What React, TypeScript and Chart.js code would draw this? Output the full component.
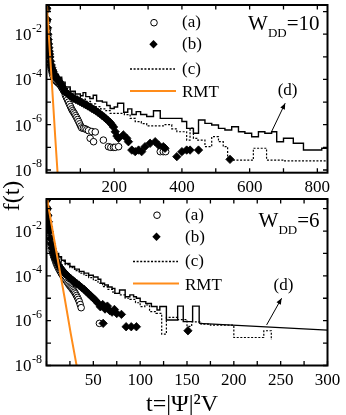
import React, { useEffect, useRef } from 'react';
import { Chart, registerables } from 'chart.js';

Chart.register(...registerables);

const FONT = "'Liberation Serif', 'Times New Roman', Times, serif";
const ORANGE = '#ff8c1a';

type Pt = [number, number]; // [t, log10 f(t)]

// ---------- upper panel : W_DD = 10 ----------
const topCircles: Pt[] = [
  [1, -0.9], [2, -1.42], [3, -1.8], [4, -2.1], [5, -2.35], [6, -2.56], [7, -2.75], [8, -2.9], [9, -3.04], [10, -3.16],
  [12, -3.37], [14, -3.53], [16, -3.66], [18, -3.77], [20, -3.86], [23, -3.96], [26, -4.03], [29, -4.08], [32, -4.12],
  [35, -4.16], [38, -4.2], [41, -4.25], [44, -4.33], [47, -4.4], [50, -4.48], [53, -4.56], [56, -4.7], [59, -4.8],
  [62, -4.9], [65, -5.0], [68, -5.1], [71, -5.2], [74, -5.3], [77, -5.38], [80, -5.45], [83, -5.52], [86, -5.6],
  [89, -5.68], [92, -5.77], [95, -5.86], [98, -5.96], [101, -6.06], [104, -6.14], [109, -6.16], [114, -6.18],
  [119, -6.22], [124, -6.26], [129, -6.6], [134, -6.3], [139, -6.75], [144, -6.32], [168, -6.68], [183, -6.97],
  [190, -7.0], [198, -7.0], [203, -7.0], [213, -6.97], [336, -7.19], [345, -7.19], [352, -7.19],
];
const topDiamonds: Pt[] = [
  [1, -0.85], [2, -1.35], [3, -1.72], [4, -2.0], [5, -2.23], [6, -2.43], [7, -2.6], [8, -2.75], [9, -2.88], [10, -3.0],
  [12, -3.2], [14, -3.36], [16, -3.48], [18, -3.58], [20, -3.66], [23, -3.77], [26, -3.85], [29, -3.92], [32, -3.98],
  [35, -4.04], [38, -4.1], [42, -4.2], [46, -4.3], [50, -4.42], [55, -4.55], [60, -4.6], [65, -4.66], [70, -4.72],
  [75, -4.78], [80, -4.83], [86, -4.88], [92, -4.92], [98, -4.97], [104, -5.02], [110, -5.07], [116, -5.12],
  [122, -5.17], [128, -5.22], [134, -5.28], [140, -5.33], [146, -5.39], [152, -5.45], [158, -5.52], [164, -5.59],
  [170, -5.66], [176, -5.74], [182, -5.82], [188, -5.9], [193, -6.0], [198, -6.1], [203, -6.31], [208, -6.5],
  [213, -6.6], [227, -6.45], [237, -6.6], [242, -6.75], [252, -7.12], [262, -7.19], [272, -7.12], [281, -7.19],
  [291, -6.97], [306, -6.82], [321, -6.75], [331, -6.9], [345, -6.97], [350, -7.04], [385, -7.41], [400, -7.19],
  [414, -7.12], [424, -7.12], [449, -7.12], [542, -7.53],
];
const topDotted: Pt[] = [
  [1, -0.8], [2, -1.3], [3, -1.65], [4, -1.93], [6, -2.36], [8, -2.68], [10, -2.94], [13, -3.22], [17, -3.48],
  [22, -3.68], [28, -3.84], [35, -3.97], [45, -4.2], [55, -4.4], [70, -4.6], [85, -4.75], [100, -4.87], [115, -4.97],
  [130, -5.08], [145, -5.2], [160, -5.3], [175, -5.38], [188, -5.5], [210, -5.5], [230, -5.55], [247, -5.72],
  [262, -5.86], [280, -5.95], [296, -6.05], [345, -6.0], [370, -6.18], [385, -6.31], [414, -6.68], [424, -6.15],
  [434, -6.6], [444, -6.68], [468, -6.97], [488, -6.53], [508, -6.75], [522, -6.97], [535, -7.56], [611, -7.04],
  [650, -7.56], [700, -7.6], [830, -7.63],
];
const topSolid: Pt[] = [
  [1, -0.75], [2, -1.25], [3, -1.6], [4, -1.88], [6, -2.3], [8, -2.62], [10, -2.88], [13, -3.16], [17, -3.42],
  [22, -3.62], [28, -3.78], [35, -3.9], [45, -4.12], [55, -4.33], [70, -4.52], [85, -4.64], [100, -4.72], [108, -4.58],
  [116, -4.76], [128, -4.84], [138, -4.7], [148, -4.95], [165, -5.0], [178, -5.15], [188, -5.28], [200, -5.22],
  [210, -5.05], [228, -5.45], [240, -5.3], [252, -5.55], [265, -5.42], [278, -5.55], [296, -5.64], [316, -5.38],
  [336, -5.72], [400, -5.86], [414, -6.16], [434, -6.38], [449, -5.79], [468, -5.94], [488, -6.01], [508, -6.16],
  [527, -6.23], [547, -6.09], [567, -6.31], [586, -6.38], [606, -6.53], [626, -6.31], [645, -6.38], [665, -6.31],
  [680, -6.75], [700, -6.6], [729, -6.82], [759, -7.12], [813, -7.04], [830, -7.04],
];

// ---------- lower panel : W_DD = 6 ----------
const botCircles: Pt[] = [
  [0.5, -0.6], [1, -1.0], [1.5, -1.32], [2, -1.62], [2.5, -1.87], [3, -2.07], [4, -2.42], [5, -2.67], [6, -2.87],
  [7, -3.02], [8, -3.16], [9, -3.28], [10, -3.4], [11, -3.5], [12, -3.59], [13, -3.67], [14, -3.75], [15, -3.82],
  [16, -3.9], [17, -3.96], [18, -4.03], [19, -4.09], [20, -4.15], [21, -4.2], [22, -4.27], [23, -4.33], [24, -4.39],
  [25, -4.45], [26, -4.5], [27, -4.55], [28, -4.61], [29, -4.67], [30, -4.73], [31, -4.8], [32, -4.88], [33, -4.96],
  [34, -5.05], [35, -5.15], [36, -5.28], [37, -5.42], [56.5, -6.12],
];
const botDiamonds: Pt[] = [
  [0.5, -0.6], [1, -1.0], [1.5, -1.3], [2, -1.58], [2.5, -1.82], [3, -2.02], [4, -2.33], [5, -2.57], [6, -2.77],
  [7, -2.93], [8, -3.07], [9, -3.18], [10, -3.28], [11.5, -3.41], [13, -3.52], [14.5, -3.62], [16, -3.71], [18, -3.81],
  [20, -3.9], [22, -3.98], [24, -4.06], [26, -4.13], [28, -4.2], [30, -4.27], [32.5, -4.35], [35, -4.43], [37.5, -4.52],
  [40, -4.6], [42.5, -4.7], [45, -4.8], [47.5, -4.9], [50, -5.0], [52.5, -5.1], [55, -5.22], [57.5, -5.38], [60, -5.28],
  [62.5, -5.48], [65, -5.35], [67.5, -5.55], [70, -5.62], [72.5, -5.5], [75, -5.68], [80, -5.72], [60.5, -6.12],
  [85, -6.27], [90.5, -6.27], [96, -6.27], [151, -6.45],
];
const botDotted: Pt[] = [
  [0.5, -0.55], [1, -0.95], [2, -1.55], [3, -1.95], [4, -2.25], [6, -2.65], [8, -2.9], [10, -3.05], [13, -3.2],
  [16, -3.35], [20, -3.5], [25, -3.63], [30, -3.77], [35, -3.88], [40, -3.98], [45, -4.08], [50, -4.2], [55, -4.33],
  [60, -4.48], [65, -4.6], [71, -4.78], [78, -4.85], [84, -5.0], [89, -5.05], [95, -5.2], [100, -5.37], [105, -5.3],
  [110, -5.6], [117, -5.67], [123, -6.6], [128, -5.85], [140, -5.95], [150, -6.25], [155, -6.05], [165, -6.15],
  [175, -6.2], [200, -6.75], [232, -6.45], [240, -6.86],
];
const botSolid: Pt[] = [
  [0.5, -0.5], [1, -0.9], [2, -1.5], [3, -1.9], [4, -2.2], [6, -2.6], [8, -2.85], [10, -3.0], [13, -3.15], [16, -3.3],
  [20, -3.45], [25, -3.58], [30, -3.7], [35, -3.8], [40, -3.88], [45, -3.97], [50, -4.05], [55, -4.15], [58, -4.33],
  [62, -4.41], [66, -4.5], [70, -4.56], [73, -4.78], [78, -4.63], [84, -4.93], [89, -4.85], [93, -4.93], [96, -5.0],
  [100, -5.15], [106, -5.23], [112, -5.37], [118, -5.52], [121, -5.37], [128, -5.97], [140, -5.35], [146, -6.04],
  [156, -5.35], [163, -6.12],
];
const botSolidTail: Pt[] = [[163, -6.12], [300, -6.42]];

// RMT line (same curve in both panels)
const rmtLine: Pt[] = [[1, -0.6], [2, -0.9], [10, -2.8], [19, -4.9], [26, -6.6], [33, -8.2], [35, -8.7]];

const yDecades = [-8, -7, -6, -5, -4, -3, -2, -1];
const yLabelExps = [-8, -6, -4, -2];
const legendTexts = ['(a)', '(b)', '(c)', 'RMT'];

interface PanelCfg {
  circles: Pt[]; diamonds: Pt[]; dotted: Pt[]; solid: Pt[]; solidTail?: Pt[];
  xMax: number; xStep: number; xLabelStep: number;
  yMinExp: number; yMaxExp: number;
  padTop: number; padBottom: number;
  wdd: string; wddDy: number;
  legendDx: number; legendDy: number;
  arrowFrom: Pt; arrowTo: Pt; dLabel: Pt;
  titles: boolean;
}

const topCfg: PanelCfg = {
  circles: topCircles, diamonds: topDiamonds, dotted: topDotted, solid: topSolid,
  xMax: 830, xStep: 100, xLabelStep: 200, yMinExp: -8.12, yMaxExp: -0.71,
  padTop: 5, padBottom: 220.3, wdd: '=10', wddDy: 25, legendDx: 0, legendDy: 0,
  arrowFrom: [665, -6.3], arrowTo: [705, -5.05], dLabel: [712, -4.5], titles: false,
};
const botCfg: PanelCfg = {
  circles: botCircles, diamonds: botDiamonds, dotted: botDotted, solid: botSolid, solidTail: botSolidTail,
  xMax: 300, xStep: 25, xLabelStep: 50, yMinExp: -8, yMaxExp: -0.57,
  padTop: 199, padBottom: 27.5, wdd: '=6', wddDy: 28, legendDx: 3, legendDy: -1.5,
  arrowFrom: [235, -6.19], arrowTo: [251, -5.0], dLabel: [253, -4.42], titles: true,
};

const toXY = (arr: Pt[]) => arr.map(([t, e]) => ({ x: t, y: Math.pow(10, e) }));

const decorPlugin = {
  id: 'decor',
  afterDatasetsDraw(chart: any) {
    const cfg: PanelCfg = chart.options.plugins.decor.cfg;
    const ctx: CanvasRenderingContext2D = chart.ctx;
    const { left, right, top, bottom } = chart.chartArea;
    const xs = chart.scales.x;
    const ys = chart.scales.y;
    ctx.save();
    ctx.strokeStyle = '#000';
    ctx.fillStyle = '#000';
    // inward tick marks
    ctx.lineWidth = 1.3;
    ctx.beginPath();
    xs.ticks.forEach((tk: any) => {
      const px = xs.getPixelForValue(tk.value);
      ctx.moveTo(px, bottom); ctx.lineTo(px, bottom - 4.5);
      ctx.moveTo(px, top); ctx.lineTo(px, top + 4.5);
    });
    ys.ticks.forEach((tk: any) => {
      const py = ys.getPixelForValue(tk.value);
      ctx.moveTo(left, py); ctx.lineTo(left + 4.5, py);
      ctx.moveTo(right, py); ctx.lineTo(right - 4.5, py);
    });
    ctx.stroke();
    // frame
    ctx.lineWidth = 2;
    ctx.strokeRect(left, top, right - left, bottom - top);

    // x tick labels
    ctx.font = `17px ${FONT}`;
    ctx.textAlign = 'center';
    ctx.textBaseline = 'alphabetic';
    xs.ticks.forEach((tk: any) => {
      if (tk.value !== 0 && tk.value % cfg.xLabelStep === 0) {
        ctx.fillText(String(tk.value), xs.getPixelForValue(tk.value), bottom + 19);
      }
    });
    // y tick labels 10^n
    ctx.textAlign = 'right';
    yLabelExps.forEach((e) => {
      const py = ys.getPixelForValue(Math.pow(10, e));
      ctx.font = `12px ${FONT}`;
      const sup = String(e);
      const supRight = left - 4.5;
      ctx.fillText(sup, supRight, py - 2.5);
      const sw = ctx.measureText(sup).width;
      ctx.font = `17px ${FONT}`;
      ctx.fillText('10', supRight - sw - 0.5, py + 5.8);
    });

    // legend
    const L = left + cfg.legendDx;
    const T = top + cfg.legendDy;
    ctx.lineWidth = 1;
    ctx.beginPath();
    ctx.arc(L + 107.5, T + 17.7, 3.3, 0, Math.PI * 2);
    ctx.fillStyle = '#fff'; ctx.fill(); ctx.stroke();
    ctx.fillStyle = '#000';
    ctx.beginPath();
    const dx = L + 107, dy = T + 39.3, r = 4.2;
    ctx.moveTo(dx, dy - r); ctx.lineTo(dx + r, dy); ctx.lineTo(dx, dy + r); ctx.lineTo(dx - r, dy); ctx.closePath();
    ctx.fill();
    ctx.lineWidth = 1.3;
    ctx.setLineDash([2, 1.6]);
    ctx.beginPath(); ctx.moveTo(L + 83.5, T + 64); ctx.lineTo(L + 128.5, T + 64); ctx.stroke();
    ctx.setLineDash([]);
    ctx.strokeStyle = ORANGE; ctx.lineWidth = 2;
    ctx.beginPath(); ctx.moveTo(L + 83.5, T + 86); ctx.lineTo(L + 129.5, T + 86); ctx.stroke();
    ctx.strokeStyle = '#000';
    ctx.font = `17px ${FONT}`;
    ctx.textAlign = 'left';
    const baselines = [22.3, 44, 68.5, 92];
    legendTexts.forEach((s, i) => ctx.fillText(s, L + 135.5, T + baselines[i]));

    // (d) annotation with arrow
    const ax0 = xs.getPixelForValue(cfg.arrowFrom[0]);
    const ay0 = ys.getPixelForValue(Math.pow(10, cfg.arrowFrom[1]));
    const ax1 = xs.getPixelForValue(cfg.arrowTo[0]);
    const ay1 = ys.getPixelForValue(Math.pow(10, cfg.arrowTo[1]));
    ctx.lineWidth = 1;
    ctx.beginPath(); ctx.moveTo(ax0, ay0); ctx.lineTo(ax1, ay1); ctx.stroke();
    const ang = Math.atan2(ay1 - ay0, ax1 - ax0);
    const hl = 6, hw = 2.5;
    ctx.beginPath();
    ctx.moveTo(ax1, ay1);
    ctx.lineTo(ax1 - hl * Math.cos(ang) + hw * Math.sin(ang), ay1 - hl * Math.sin(ang) - hw * Math.cos(ang));
    ctx.lineTo(ax1 - hl * Math.cos(ang) - hw * Math.sin(ang), ay1 - hl * Math.sin(ang) + hw * Math.cos(ang));
    ctx.closePath(); ctx.fill();
    ctx.textAlign = 'center';
    ctx.textBaseline = 'middle';
    ctx.fillText('(d)', xs.getPixelForValue(cfg.dLabel[0]), ys.getPixelForValue(Math.pow(10, cfg.dLabel[1])));
    ctx.textBaseline = 'alphabetic';

    // W_DD label
    ctx.font = `21px ${FONT}`;
    const wW = ctx.measureText('W').width;
    const wEq = ctx.measureText(cfg.wdd).width;
    ctx.font = `13px ${FONT}`;
    const wDD = ctx.measureText('DD').width;
    const x0 = right - 8 - (wW + wDD + wEq);
    const by = top + cfg.wddDy;
    ctx.textAlign = 'left';
    ctx.font = `21px ${FONT}`;
    ctx.fillText('W', x0, by);
    ctx.fillText(cfg.wdd, x0 + wW + wDD, by);
    ctx.font = `13px ${FONT}`;
    ctx.fillText('DD', x0 + wW, by + 6.5);

    // axis titles
    if (cfg.titles) {
      ctx.font = `24px ${FONT}`;
      ctx.textAlign = 'center';
      ctx.textBaseline = 'middle';
      ctx.save();
      ctx.translate(left - 34, top - 3);
      ctx.rotate(-Math.PI / 2);
      ctx.fillText('f(t)', 0, 0);
      ctx.restore();
      ctx.textBaseline = 'alphabetic';
      ctx.fillText('t=|\u03A8|\u00B2V', (left + right) / 2 - 5, bottom + 45);
    }
    ctx.restore();
  },
};

function buildChart(canvas: HTMLCanvasElement, cfg: PanelCfg) {
  const datasets: any[] = [
    { data: toXY(cfg.solid), showLine: true, stepped: 'before', borderColor: '#000', borderWidth: 1.4, pointRadius: 0, order: 6 },
  ];
  if (cfg.solidTail) {
    datasets.push({ data: toXY(cfg.solidTail), showLine: true, borderColor: '#000', borderWidth: 1.4, pointRadius: 0, order: 6 });
  }
  datasets.push(
    { data: toXY(cfg.dotted), showLine: true, stepped: 'before', borderColor: '#000', borderWidth: 1.2, borderDash: [2, 1.6], pointRadius: 0, order: 5 },
    { data: toXY(cfg.circles), showLine: false, pointStyle: 'circle', pointRadius: 3.3, pointBackgroundColor: '#fff', pointBorderColor: '#000', pointBorderWidth: 1, order: 4 },
    { data: toXY(cfg.diamonds), showLine: false, pointStyle: 'rectRot', pointRadius: 4.2, pointBackgroundColor: '#000', pointBorderColor: '#000', pointBorderWidth: 0.8, order: 3 },
    { data: toXY(rmtLine), showLine: true, borderColor: ORANGE, borderWidth: 2, pointRadius: 0, order: 1 },
  );
  return new Chart(canvas, {
    type: 'line',
    data: { datasets },
    plugins: [decorPlugin],
    options: {
      responsive: false,
      animation: false,
      events: [],
      clip: 0 as any,
      layout: { padding: { left: 0, right: 18.5, top: cfg.padTop, bottom: cfg.padBottom } },
      plugins: { legend: { display: false }, tooltip: { enabled: false }, decor: { cfg } } as any,
      scales: {
        x: {
          type: 'linear', min: 0, max: cfg.xMax,
          ticks: { display: false, stepSize: cfg.xStep, includeBounds: false },
          grid: { display: false, drawTicks: false }, border: { display: false },
          afterFit: (s: any) => { s.height = 22; },
        },
        y: {
          type: 'logarithmic', min: Math.pow(10, cfg.yMinExp), max: Math.pow(10, cfg.yMaxExp),
          ticks: { display: false },
          grid: { display: false, drawTicks: false }, border: { display: false },
          afterBuildTicks: (s: any) => { s.ticks = yDecades.map((e) => ({ value: Math.pow(10, e) })); },
          afterFit: (s: any) => { s.width = 46.5; },
        },
      },
    } as any,
  });
}

export default function App() {
  const topRef = useRef<HTMLCanvasElement>(null);
  const botRef = useRef<HTMLCanvasElement>(null);
  useEffect(() => {
    const c1 = buildChart(topRef.current!, topCfg);
    const c2 = buildChart(botRef.current!, botCfg);
    return () => { c1.destroy(); c2.destroy(); };
  }, []);
  const cs: React.CSSProperties = { position: 'absolute', left: 0, top: 0, width: 346, height: 415 };
  return (
    <div style={{ position: 'absolute', left: 0, top: 0, width: 346, height: 415, background: '#fff' }}>
      <canvas ref={topRef} width={346} height={415} style={cs} />
      <canvas ref={botRef} width={346} height={415} style={cs} />
    </div>
  );
}
